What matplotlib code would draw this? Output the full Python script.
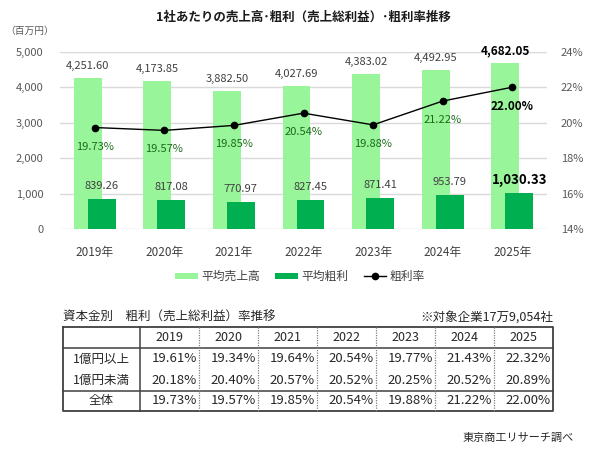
import matplotlib
matplotlib.use("Agg")
import matplotlib.pyplot as plt
from matplotlib.patches import Patch
from matplotlib.lines import Line2D
import numpy as np

plt.rcParams['font.family'] = ['Noto Sans CJK JP', 'DejaVu Sans']

years = ["2019年", "2020年", "2021年", "2022年", "2023年", "2024年", "2025年"]
sales = [4251.60, 4173.85, 3882.50, 4027.69, 4383.02, 4492.95, 4682.05]
gross = [839.26, 817.08, 770.97, 827.45, 871.41, 953.79, 1030.33]
rate = [19.73, 19.57, 19.85, 20.54, 19.88, 21.22, 22.00]

tbl_years = ["2019", "2020", "2021", "2022", "2023", "2024", "2025"]
tbl_rows = ["1億円以上", "1億円未満", "全体"]
tbl_large = ["19.61%", "19.34%", "19.64%", "20.54%", "19.77%", "21.43%", "22.32%"]
tbl_small = ["20.18%", "20.40%", "20.57%", "20.52%", "20.25%", "20.52%", "20.89%"]
tbl_all = ["19.73%", "19.57%", "19.85%", "20.54%", "19.88%", "21.22%", "22.00%"]

LIGHT = "#99F59A"
DARK = "#00B050"
PCT_GREEN = "#1B6B1B"
TXT = "#404040"
TICK = "#595959"

W, H = 600, 453
fig = plt.figure(figsize=(W / 100, H / 100), dpi=100)
PX = 72 / 100  # points per pixel

ax = fig.add_axes([60 / W, 1 - 229.3 / H, (547 - 60) / W, (229.3 - 51.7) / H])
x = np.arange(len(years))
bw = 0.4
ax.bar(x - 0.1, sales, width=bw, color=LIGHT, zorder=2)
ax.bar(x + 0.1, gross, width=bw, color=DARK, zorder=3)
ax.set_xlim(-0.5, len(years) - 0.5)
ax.set_ylim(0, 5000)
ax.set_yticks(range(0, 5001, 1000))
ax.set_yticklabels([f"{v:,}" for v in range(0, 5001, 1000)])
ax.set_xticks(x)
ax.set_xticklabels(years)
ax.tick_params(axis='y', length=0, labelsize=8, labelcolor=TICK, pad=12)
ax.tick_params(axis='x', length=0, labelsize=8.5, labelcolor=TXT, pad=12)
ax.grid(axis='y', color="#D9D9D9", linewidth=1, zorder=0)
ax.set_axisbelow(True)
for s in ax.spines.values():
    s.set_visible(False)

last = len(years) - 1
for i in range(len(years)):
    bold = i == last
    ax.annotate(f"{sales[i]:,.2f}", (x[i] - 0.1, sales[i]), xytext=(0, 12 * PX),
                textcoords='offset points', ha='center', va='center',
                fontsize=8.5 if bold else 8, color='black' if bold else TXT,
                fontweight='bold' if bold else 'normal', zorder=6)
    ax.annotate(f"{gross[i]:,.2f}", (x[i] + 0.1, gross[i]), xytext=(0, 13 * PX),
                textcoords='offset points', ha='center', va='center',
                fontsize=9.5 if bold else 8, color='black' if bold else TXT,
                fontweight='bold' if bold else 'normal', zorder=6)

ax2 = ax.twinx()
ax2.set_ylim(14, 24)
ax2.set_yticks(range(14, 25, 2))
ax2.set_yticklabels([f"{v}%" for v in range(14, 25, 2)])
ax2.tick_params(axis='y', length=0, labelsize=8, labelcolor=TICK, pad=10)
for s in ax2.spines.values():
    s.set_visible(False)
ax2.plot(x, rate, color='black', linewidth=1, marker='o', markersize=4.5, zorder=5)
for i in range(len(years)):
    bold = i == last
    ax2.annotate(f"{rate[i]:.2f}%", (x[i], rate[i]), xytext=(0, -19 * PX),
                 textcoords='offset points', ha='center', va='center',
                 fontsize=8.5 if bold else 8,
                 color='black' if bold else PCT_GREEN,
                 fontweight='bold' if bold else 'normal', zorder=6)

# Title & unit
fig.text(303 / W, 1 - 17 / H, "1社あたりの売上高･粗利（売上総利益）･粗利率推移",
         ha='center', va='center', fontsize=9, fontweight='bold', color='#1A1A1A')
fig.text(5 / W, 1 - 31 / H, "（百万円）", ha='left', va='center', fontsize=7, color=TICK)

# Legend
handles = [Patch(facecolor=LIGHT, edgecolor='none', label="平均売上高"),
           Patch(facecolor=DARK, edgecolor='none', label="平均粗利"),
           Line2D([0], [0], color='black', linewidth=1, marker='o', markersize=4.5, label="粗利率")]
fig.legend(handles=handles, loc='center', bbox_to_anchor=(300 / W, 1 - 276.7 / H), ncol=3,
           frameon=False, fontsize=8.5, handlelength=1.9, handleheight=0.5,
           columnspacing=1.3, handletextpad=0.3, labelcolor=TXT)

# Table overlay (pixel coordinates)
ov = fig.add_axes([0, 0, 1, 1])
ov.set_xlim(0, W)
ov.set_ylim(H, 0)
ov.axis('off')

tl, tr = 63, 553
c0 = 140
cw = (tr - c0) / len(tbl_years)
ytop, yh, y3, ybot = 327, 348, 391, 411
row_y = [359, 380, 400.5]
LC = "#404040"

ov.text(tl, 317, "資本金別　粗利（売上総利益）率推移", ha='left', va='center', fontsize=9, color='#262626')
ov.text(tr, 317, "※対象企業17万9,054社", ha='right', va='center', fontsize=9, color='#262626')

ov.plot([tl, tr, tr, tl, tl], [ytop, ytop, ybot, ybot, ytop], color=LC, linewidth=1.3)
ov.plot([tl, tr], [yh, yh], color=LC, linewidth=1.1)
ov.plot([tl, tr], [y3, y3], color=LC, linewidth=1.1)
ov.plot([c0, c0], [ytop, ybot], color=LC, linewidth=1.1)
for j in range(1, len(tbl_years)):
    xx = c0 + j * cw
    ov.plot([xx, xx], [ytop, ybot], color="#808080", linewidth=0.9, linestyle=(0, (1, 1)))

for j, yr in enumerate(tbl_years):
    ov.text(c0 + (j + 0.5) * cw, (ytop + yh) / 2, yr, ha='center', va='center',
            fontsize=9, color='#262626')
for r, (lab, vals) in enumerate(zip(tbl_rows, [tbl_large, tbl_small, tbl_all])):
    ov.text((tl + c0) / 2, row_y[r], lab, ha='center', va='center', fontsize=9, color='#262626')
    for j, v in enumerate(vals):
        ov.text(c0 + (j + 1) * cw - 2, row_y[r], v, ha='right', va='center',
                fontsize=9.5, color='#262626')

ov.text(574, 438, "東京商工リサーチ調べ", ha='right', va='center', fontsize=8, color='#262626')

fig.savefig("out.png", dpi=100, facecolor='white')
